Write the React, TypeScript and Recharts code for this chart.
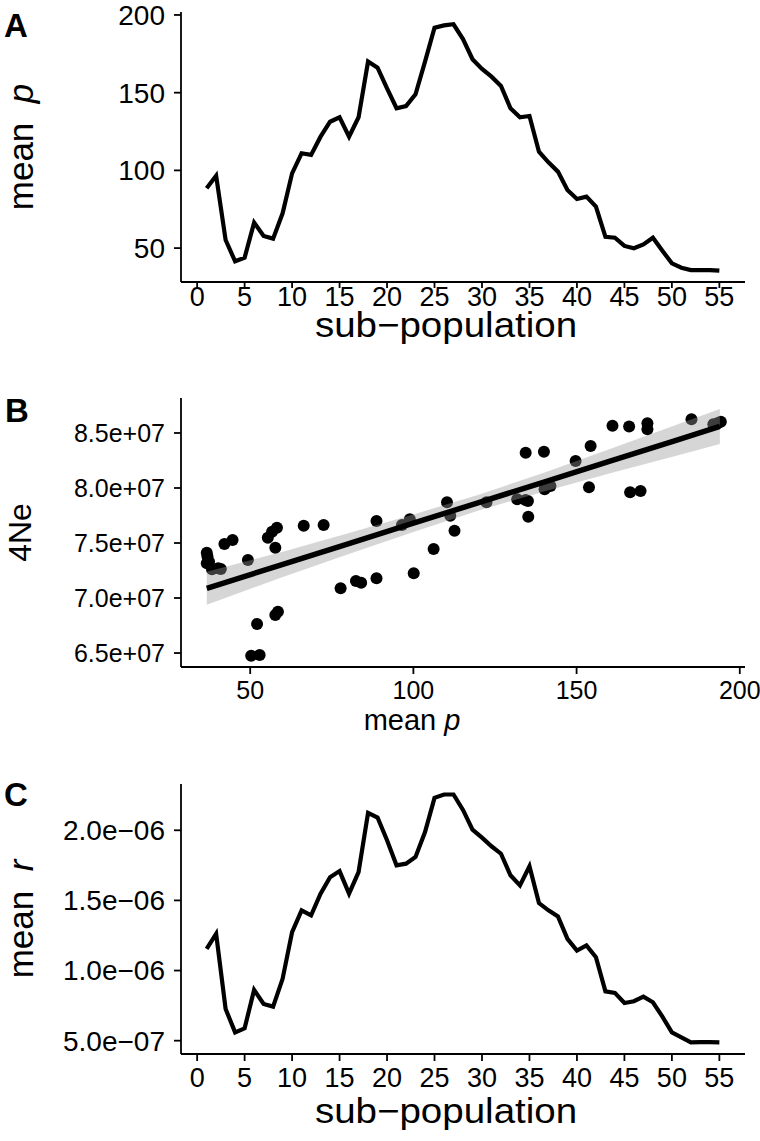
import {
  LineChart,
  Line,
  ComposedChart,
  Scatter,
  Area,
  XAxis,
  YAxis,
  Label,
} from 'recharts';

// Panel A / C: one value per sub-population
const subPopulation = [
  1, 2, 3, 4, 5, 6, 7, 8, 9, 10, 11, 12, 13, 14, 15, 16, 17, 18, 19, 20,
  21, 22, 23, 24, 25, 26, 27, 28, 29, 30, 31, 32, 33, 34, 35, 36, 37, 38, 39, 40,
  41, 42, 43, 44, 45, 46, 47, 48, 49, 50, 51, 52, 53, 54, 55,
];
const meanP = [
  88.5, 96.6, 55.2, 41.5, 43.8, 66.4, 57.8, 56.1, 72.4, 98.1,
  111.0, 110.0, 121.7, 131.3, 134.2, 121.7, 134.2, 170.0, 166.1, 152.8,
  140.0, 141.4, 149.0, 170.0, 191.8, 193.3, 194.0, 184.5, 171.5, 165.3,
  160.3, 154.3, 140.0, 134.2, 135.0, 112.0, 105.2, 99.2, 87.4, 81.6,
  83.1, 76.7, 57.3, 56.7, 51.4, 49.9, 52.4, 56.7, 48.3, 40.2,
  37.4, 35.9, 35.9, 35.9, 35.5,
];
// mean r, in units of 1e-6
const meanR = [
  1.155, 1.262, 0.726, 0.559, 0.588, 0.862, 0.762, 0.743, 0.941, 1.274,
  1.429, 1.393, 1.548, 1.666, 1.709, 1.548, 1.702, 2.124, 2.091, 1.929,
  1.75, 1.762, 1.81, 1.988, 2.231, 2.255, 2.255, 2.145, 2.005, 1.948,
  1.886, 1.833, 1.679, 1.607, 1.743, 1.481, 1.429, 1.386, 1.226, 1.143,
  1.179, 1.095, 0.852, 0.841, 0.769, 0.781, 0.814, 0.774, 0.671, 0.559,
  0.524, 0.488, 0.49, 0.49, 0.488,
];

// Panel B: scatter of mean p vs 4Ne (4Ne in units of 1e7)
const scatterMeanP = [
  36.7, 36.7, 38.3, 41.0, 42.1, 44.6, 49.3, 50.3, 52.9, 52.1,
  55.4, 56.7, 58.2, 57.7, 57.7, 58.5, 66.4, 72.5, 77.7, 82.4,
  84.0, 88.7, 88.7, 96.5, 98.9, 100.1, 106.2, 110.3, 111.3, 112.6,
  122.4, 131.8, 134.4, 135.1, 134.4, 135.2, 140.0, 140.2, 142.0, 149.7,
  154.3, 153.8, 161.0, 166.1, 166.4, 169.6, 171.7, 171.7, 185.2, 191.9,
  194.2, 36.9, 37.4, 40.2, 193.3,
];
const scatterNe = [
  7.412, 7.315, 7.261, 7.264, 7.491, 7.527, 7.345, 6.475, 6.482, 6.764,
  7.548, 7.603, 7.639, 7.457, 6.845, 6.875, 7.657, 7.664, 7.088, 7.155,
  7.139, 7.179, 7.7, 7.664, 7.715, 7.225, 7.445, 7.87, 7.748, 7.612,
  7.87, 7.897, 7.891, 7.882, 8.321, 7.739, 8.33, 7.988, 8.018, 8.245,
  8.382, 8.006, 8.566, 8.558, 7.961, 7.973, 8.588, 8.534, 8.625, 8.579,
  8.603, 7.38, 7.33, 7.27, 8.59,
];

// linear fit and its confidence band
const fitMeanP = [36.7, 60, 80, 100, 120, 140, 160, 180, 193.9];
const fitNe = [7.088, 7.306, 7.493, 7.68, 7.867, 8.054, 8.242, 8.429, 8.559];
const bandLow = [6.938, 7.191, 7.398, 7.6, 7.795, 7.969, 8.132, 8.289, 8.399];
const bandHigh = [7.238, 7.421, 7.588, 7.76, 7.939, 8.139, 8.352, 8.569, 8.719];

const subPopTicks = [0, 5, 10, 15, 20, 25, 30, 35, 40, 45, 50, 55];
const meanPTicks = [50, 100, 150, 200];
const neTicks = [6.5, 7, 7.5, 8, 8.5];
const neTickLabels = ['6.5e+07', '7.0e+07', '7.5e+07', '8.0e+07', '8.5e+07'];
const meanRTicks = [0.5, 1, 1.5, 2];
const meanRTickLabels = ['5.0e\u221207', '1.0e\u221206', '1.5e\u221206', '2.0e\u221206'];

const FONT = '"Liberation Sans", Arial, Helvetica, sans-serif';
const INK = '#000';
const axisLine = { stroke: INK, strokeWidth: 1.8 };

const rowsA = subPopulation.map((s, i) => ({ sub: s, meanP: meanP[i] }));
const rowsC = subPopulation.map((s, i) => ({ sub: s, meanR: meanR[i] }));
const pointsB = scatterMeanP.map((x, i) => ({ x, y: scatterNe[i] }));
const fitRows = fitMeanP.map((x, i) => ({ x, fit: fitNe[i], band: [bandLow[i], bandHigh[i]] }));

function YTitle(props: any) {
  const { viewBox, main, italic, size, cx } = props;
  const cy = viewBox.y + viewBox.height / 2;
  return (
    <text
      x={cx}
      y={cy}
      transform={`rotate(-90 ${cx} ${cy})`}
      textAnchor="middle"
      dominantBaseline="central"
      fontSize={size}
      fontFamily={FONT}
      fill={INK}
    >
      {main}
      {italic ? <tspan fontStyle="italic">{italic}</tspan> : null}
    </text>
  );
}

// horizontal axis title, slightly widened like the reference lettering
function XTitle(props: any) {
  const { viewBox, main, italic, size, dy, cx, sx } = props;
  return (
    <text
      transform={`translate(${cx},${viewBox.y + dy}) scale(${sx},1)`}
      textAnchor="middle"
      fontSize={size}
      fontFamily={FONT}
      fill={INK}
    >
      {main}
      {italic ? <tspan fontStyle="italic">{italic}</tspan> : null}
    </text>
  );
}

function SubPopulationPanel({ rows, dataKey, domain, ticks, tickLabels, yMain, yItalic, height, top, xTickSize, xTickMargin, xTitleDy }: any) {
  const xHeight = height - top - 270;
  return (
    <LineChart width={760} height={height} data={rows} margin={{ top, right: 15, bottom: 0, left: 0 }}>
      <XAxis
        dataKey="sub"
        type="number"
        domain={[-1.7, 57.7]}
        ticks={subPopTicks}
        interval={0}
        height={xHeight}
        tickSize={xTickSize}
        tickMargin={xTickMargin}
        axisLine={axisLine}
        tickLine={axisLine}
        tick={{ fill: INK, fontSize: 27, fontFamily: FONT }}
      >
        <Label content={(p: any) => <XTitle {...p} main={'sub\u2212population'} size={35} dy={xTitleDy} cx={446} sx={1.1} />} />
      </XAxis>
      <YAxis
        type="number"
        domain={domain}
        ticks={ticks}
        interval={0}
        width={181}
        tickSize={7}
        tickMargin={9}
        axisLine={axisLine}
        tickLine={axisLine}
        tick={{ fill: INK, fontSize: 28, fontFamily: FONT }}
        tickFormatter={tickLabels ? (v: number) => tickLabels[ticks.indexOf(v)] : undefined}
      >
        <Label content={(p: any) => <YTitle {...p} main={yMain} italic={yItalic} size={35} cx={20} />} />
      </YAxis>
      <Line
        dataKey={dataKey}
        type="linear"
        stroke={INK}
        strokeWidth={4.2}
        strokeLinejoin="miter"
        dot={false}
        activeDot={false}
        isAnimationActive={false}
      />
    </LineChart>
  );
}

function ScatterPanel() {
  return (
    <ComposedChart width={760} height={400} data={fitRows} margin={{ top: 53, right: 15, bottom: 0, left: 0 }}>
      <XAxis
        dataKey="x"
        type="number"
        domain={[28.8, 201.6]}
        ticks={meanPTicks}
        interval={0}
        height={78}
        tickSize={7}
        tickMargin={7}
        axisLine={axisLine}
        tickLine={axisLine}
        tick={{ fill: INK, fontSize: 25, fontFamily: FONT }}
      >
        <Label content={(p: any) => <XTitle {...p} main={'mean\u00a0'} italic="p" size={29} dy={63} cx={412} sx={1} />} />
      </XAxis>
      <YAxis
        dataKey="y"
        type="number"
        domain={[6.373, 8.818]}
        ticks={neTicks}
        interval={0}
        width={181}
        tickSize={7}
        tickMargin={9}
        axisLine={axisLine}
        tickLine={axisLine}
        tick={{ fill: INK, fontSize: 25, fontFamily: FONT }}
        tickFormatter={(v: number) => neTickLabels[neTicks.indexOf(v)]}
      >
        <Label content={(p: any) => <YTitle {...p} main="4Ne" size={32} cx={20} />} />
      </YAxis>
      <Scatter
        data={pointsB}
        dataKey="y"
        fill={INK}
        zIndex={50}
        isAnimationActive={false}
        shape={(p: any) => <circle cx={p.cx} cy={p.cy} r={6} fill={INK} />}
      />
      <Area
        dataKey="band"
        type="linear"
        stroke="none"
        fill="#999999"
        fillOpacity={0.4}
        activeDot={false}
        isAnimationActive={false}
      />
      <Line
        dataKey="fit"
        type="linear"
        stroke={INK}
        strokeWidth={5.5}
        dot={false}
        activeDot={false}
        isAnimationActive={false}
      />
    </ComposedChart>
  );
}

const letterStyle = { fontFamily: FONT, fontWeight: 700, fontSize: 33, fill: INK };

export default function App() {
  return (
    <div style={{ position: 'absolute', left: 0, top: 0, width: 760, height: 1141, background: '#fff', overflow: 'hidden' }}>
      <div style={{ position: 'absolute', left: 0, top: 0 }}>
        <SubPopulationPanel
          rows={rowsA}
          dataKey="meanP"
          domain={[28.2, 201.9]}
          ticks={meanPTicks}
          yMain={'mean\u00a0\u00a0'}
          yItalic="p"
          height={345}
          top={12}
          xTickSize={6}
          xTickMargin={-1}
          xTitleDy={55}
        />
      </div>
      <div style={{ position: 'absolute', left: 0, top: 345 }}>
        <ScatterPanel />
      </div>
      <div style={{ position: 'absolute', left: 0, top: 745 }}>
        <SubPopulationPanel
          rows={rowsC}
          dataKey="meanR"
          domain={[0.405, 2.33]}
          ticks={meanRTicks}
          tickLabels={meanRTickLabels}
          yMain={'mean\u00a0\u00a0'}
          yItalic="r"
          height={396}
          top={39}
          xTickSize={7}
          xTickMargin={7}
          xTitleDy={69}
        />
      </div>
      <svg width={760} height={1141} style={{ position: 'absolute', left: 0, top: 0, pointerEvents: 'none' }}>
        <text x={4} y={37} style={letterStyle}>A</text>
        <text x={5} y={422} style={letterStyle}>B</text>
        <text x={4} y={806} style={letterStyle}>C</text>
      </svg>
    </div>
  );
}
